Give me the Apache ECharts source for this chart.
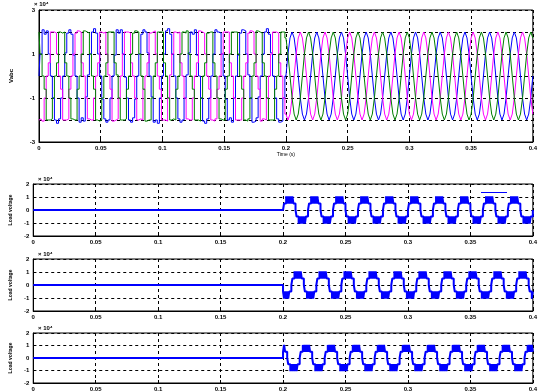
<!DOCTYPE html>
<html>
<head>
<meta charset="utf-8">
<script src="https://cdn.jsdelivr.net/npm/echarts@6/dist/echarts.min.js"></script>
<style>
  html, body { margin: 0; padding: 0; background: #fff; }
  #chart { width: 540px; height: 392px; }
</style>
</head>
<body>
<div id="chart"></div>
<script>
// time axis ticks (s)
const xTicks = [0, 0.05, 0.1, 0.15, 0.2, 0.25, 0.3, 0.35, 0.4];

// top plot: three phase voltages (x10^4), 12 samples per 20 ms cycle
// first half 0..0.2 s (stepped, distorted), 121 samples incl. t = 0.2
const vaStart = [
  0, 1, 2.1, 1.9, 2.05, 1, 0, -1, -2, -2.15, -1.95, -1,
  0, 1.05, 1.95, 2.1, 1.9, .95, 0, -1, -2.1, -1.9, -2.05, -.95,
  .05, 1, 2, 2.15, 1.95, 1, 0, -1.05, -1.95, -2.1, -2, -1,
  0, .95, 2.1, 1.95, 2.1, 1, -.05, -1, -2, -2.1, -1.9, -1.05,
  0, 1, 1.9, 2.1, 2, 1.05, 0, -.95, -2.1, -2, -2.15, -1,
  0, 1, 2.05, 2.15, 1.9, 1, 0, -1, -1.95, -2.1, -2, -1,
  .05, 1.05, 2, 1.9, 2.1, .95, 0, -1, -2.05, -2.15, -1.95, -1,
  0, 1, 2.1, 2, 1.95, 1, 0, -1.05, -2, -1.9, -2.1, -1,
  0, .95, 1.95, 2.1, 2.05, 1, .05, -1, -2.1, -2.05, -1.9, -.95,
  0, 1, 2, 2.15, 1.9, 1.05, 0, -1, -1.95, -2.1, -2.05, -1,
  0
];
const vbStart = [
  -2, -1.95, -2.05, -1, 0, .6, 2, 2, 1.95, 1, 0, -.6,
  -2, -2, -1.95, -.6, 0, 1, 1.95, 2.05, 2, .6, 0, -1,
  -1.95, -2, -2, -1, 0, .6, 2, 1.95, 2, 1, .05, -.6,
  -2.05, -2, -1.95, -1, 0, 1, 2, 2, 1.95, .6, 0, -1,
  -2, -1.95, -2, -.6, 0, .6, 1.95, 2, 2.05, 1, 0, -.6,
  -2, -2, -2.05, -1, .05, 1, 2, 1.95, 2, .6, 0, -1,
  -1.95, -2, -2, -1, 0, .6, 2.05, 2, 1.95, 1, 0, -.6,
  -2, -2.05, -1.95, -.6, 0, 1, 2, 2, 2, .6, 0, -1,
  -2, -2, -2, -1, 0, .6, 1.95, 2.05, 2, 1, 0, -.6,
  -2.05, -1.95, -2, -1, 0, 1, 2, 2, 1.95, .6, 0, -1,
  -1.73
];
const vcStart = [
  2, 1, 0, -.6, -2, -2, -1.95, -1, 0, .6, 2, 1.95,
  2, .6, 0, -1, -1.95, -2, -2, -.6, 0, 1, 2.05, 2,
  1.95, 1, 0, -.6, -2, -2.05, -2, -1, 0, .6, 2, 2,
  2, .6, .05, -1, -2, -2, -1.95, -.6, 0, 1, 1.95, 2.05,
  2, 1, 0, -.6, -2.05, -2, -2, -1, 0, .6, 2, 2,
  2, .6, 0, -1, -2, -1.95, -2, -.6, 0, 1, 2, 1.95,
  2.05, 1, 0, -.6, -2, -2, -2.05, -1, 0, .6, 1.95, 2,
  2, .6, 0, -1, -1.95, -2, -2, -.6, 0, 1, 2, 2,
  2, 1, 0, -.6, -2, -2.05, -1.95, -1, 0, .6, 2.05, 2,
  1.95, .6, 0, -1, -2, -2, -2, -.6, 0, 1, 2, 2,
  1.73
];
// second half 0.2..0.4 s (smooth), 121 samples
const vaEnd = [
  0, 1, 1.73, 2, 1.73, 1, 0, -1, -1.73, -2, -1.73, -1,
  0, 1, 1.73, 2, 1.73, 1, 0, -1, -1.73, -2, -1.73, -1,
  0, 1, 1.73, 2, 1.73, 1, 0, -1, -1.73, -2, -1.73, -1,
  0, 1, 1.73, 2, 1.73, 1, 0, -1, -1.73, -2, -1.73, -1,
  0, 1, 1.73, 2, 1.73, 1, 0, -1, -1.73, -2, -1.73, -1,
  0, 1, 1.73, 2, 1.73, 1, 0, -1, -1.73, -2, -1.73, -1,
  0, 1, 1.73, 2, 1.73, 1, 0, -1, -1.73, -2, -1.73, -1,
  0, 1, 1.73, 2, 1.73, 1, 0, -1, -1.73, -2, -1.73, -1,
  0, 1, 1.73, 2, 1.73, 1, 0, -1, -1.73, -2, -1.73, -1,
  0, 1, 1.73, 2, 1.73, 1, 0, -1, -1.73, -2, -1.73, -1,
  0
];
const vbEnd = [
  -1.73, -2, -1.73, -1, 0, 1, 1.73, 2, 1.73, 1, 0, -1,
  -1.73, -2, -1.73, -1, 0, 1, 1.73, 2, 1.73, 1, 0, -1,
  -1.73, -2, -1.73, -1, 0, 1, 1.73, 2, 1.73, 1, 0, -1,
  -1.73, -2, -1.73, -1, 0, 1, 1.73, 2, 1.73, 1, 0, -1,
  -1.73, -2, -1.73, -1, 0, 1, 1.73, 2, 1.73, 1, 0, -1,
  -1.73, -2, -1.73, -1, 0, 1, 1.73, 2, 1.73, 1, 0, -1,
  -1.73, -2, -1.73, -1, 0, 1, 1.73, 2, 1.73, 1, 0, -1,
  -1.73, -2, -1.73, -1, 0, 1, 1.73, 2, 1.73, 1, 0, -1,
  -1.73, -2, -1.73, -1, 0, 1, 1.73, 2, 1.73, 1, 0, -1,
  -1.73, -2, -1.73, -1, 0, 1, 1.73, 2, 1.73, 1, 0, -1,
  -1.73
];
const vcEnd = [
  1.73, 1, 0, -1, -1.73, -2, -1.73, -1, 0, 1, 1.73, 2,
  1.73, 1, 0, -1, -1.73, -2, -1.73, -1, 0, 1, 1.73, 2,
  1.73, 1, 0, -1, -1.73, -2, -1.73, -1, 0, 1, 1.73, 2,
  1.73, 1, 0, -1, -1.73, -2, -1.73, -1, 0, 1, 1.73, 2,
  1.73, 1, 0, -1, -1.73, -2, -1.73, -1, 0, 1, 1.73, 2,
  1.73, 1, 0, -1, -1.73, -2, -1.73, -1, 0, 1, 1.73, 2,
  1.73, 1, 0, -1, -1.73, -2, -1.73, -1, 0, 1, 1.73, 2,
  1.73, 1, 0, -1, -1.73, -2, -1.73, -1, 0, 1, 1.73, 2,
  1.73, 1, 0, -1, -1.73, -2, -1.73, -1, 0, 1, 1.73, 2,
  1.73, 1, 0, -1, -1.73, -2, -1.73, -1, 0, 1, 1.73, 2,
  1.73
];

// load voltages (x10^4) from 0.2 s, 24 samples per cycle, 241 samples
const loadA = [
  0, .5, .5, 1.05, .5, 1.05, .5, 1.05, .5, 1.05, .5, .5, 0, -.5, -.5, -1.05, -.5, -1.05, -.5, -1.05, -.5, -1.05, -.5, -.5,
  0, .5, .5, 1.05, .5, 1.05, .5, 1.05, .5, 1.05, .5, .5, 0, -.5, -.5, -1.05, -.5, -1.05, -.5, -1.05, -.5, -1.05, -.5, -.5,
  0, .5, .5, 1.05, .5, 1.05, .5, 1.05, .5, 1.05, .5, .5, 0, -.5, -.5, -1.05, -.5, -1.05, -.5, -1.05, -.5, -1.05, -.5, -.5,
  0, .5, .5, 1.05, .5, 1.05, .5, 1.05, .5, 1.05, .5, .5, 0, -.5, -.5, -1.05, -.5, -1.05, -.5, -1.05, -.5, -1.05, -.5, -.5,
  0, .5, .5, 1.05, .5, 1.05, .5, 1.05, .5, 1.05, .5, .5, 0, -.5, -.5, -1.05, -.5, -1.05, -.5, -1.05, -.5, -1.05, -.5, -.5,
  0, .5, .5, 1.05, .5, 1.05, .5, 1.05, .5, 1.05, .5, .5, 0, -.5, -.5, -1.05, -.5, -1.05, -.5, -1.05, -.5, -1.05, -.5, -.5,
  0, .5, .5, 1.05, .5, 1.05, .5, 1.05, .5, 1.05, .5, .5, 0, -.5, -.5, -1.05, -.5, -1.05, -.5, -1.05, -.5, -1.05, -.5, -.5,
  0, .5, .5, 1.05, .5, 1.05, .5, 1.05, .5, 1.05, .5, .5, 0, -.5, -.5, -1.05, -.5, -1.05, -.5, -1.05, -.5, -1.05, -.5, -.5,
  0, .5, .5, 1.05, .5, 1.05, .5, 1.05, .5, 1.05, .5, .5, 0, -.5, -.5, -1.05, -.5, -1.05, -.5, -1.05, -.5, -1.05, -.5, -.5,
  0, .5, .5, 1.05, .5, 1.05, .5, 1.05, .5, 1.05, .5, .5, 0, -.5, -.5, -1.05, -.5, -1.05, -.5, -1.05, -.5, -1.05, -.5, -.5,
  0
];
const loadB = [
  -.5, -1.05, -.5, -1.05, -.5, -1.05, -.5, -.5, 0, .5, .5, 1.05, .5, 1.05, .5, 1.05, .5, 1.05, .5, .5, 0, -.5, -.5, -1.05,
  -.5, -1.05, -.5, -1.05, -.5, -1.05, -.5, -.5, 0, .5, .5, 1.05, .5, 1.05, .5, 1.05, .5, 1.05, .5, .5, 0, -.5, -.5, -1.05,
  -.5, -1.05, -.5, -1.05, -.5, -1.05, -.5, -.5, 0, .5, .5, 1.05, .5, 1.05, .5, 1.05, .5, 1.05, .5, .5, 0, -.5, -.5, -1.05,
  -.5, -1.05, -.5, -1.05, -.5, -1.05, -.5, -.5, 0, .5, .5, 1.05, .5, 1.05, .5, 1.05, .5, 1.05, .5, .5, 0, -.5, -.5, -1.05,
  -.5, -1.05, -.5, -1.05, -.5, -1.05, -.5, -.5, 0, .5, .5, 1.05, .5, 1.05, .5, 1.05, .5, 1.05, .5, .5, 0, -.5, -.5, -1.05,
  -.5, -1.05, -.5, -1.05, -.5, -1.05, -.5, -.5, 0, .5, .5, 1.05, .5, 1.05, .5, 1.05, .5, 1.05, .5, .5, 0, -.5, -.5, -1.05,
  -.5, -1.05, -.5, -1.05, -.5, -1.05, -.5, -.5, 0, .5, .5, 1.05, .5, 1.05, .5, 1.05, .5, 1.05, .5, .5, 0, -.5, -.5, -1.05,
  -.5, -1.05, -.5, -1.05, -.5, -1.05, -.5, -.5, 0, .5, .5, 1.05, .5, 1.05, .5, 1.05, .5, 1.05, .5, .5, 0, -.5, -.5, -1.05,
  -.5, -1.05, -.5, -1.05, -.5, -1.05, -.5, -.5, 0, .5, .5, 1.05, .5, 1.05, .5, 1.05, .5, 1.05, .5, .5, 0, -.5, -.5, -1.05,
  -.5, -1.05, -.5, -1.05, -.5, -1.05, -.5, -.5, 0, .5, .5, 1.05, .5, 1.05, .5, 1.05, .5, 1.05, .5, .5, 0, -.5, -.5, -1.05,
  -.5
];
const loadC = [
  .5, 1.05, .5, .5, 0, -.5, -.5, -1.05, -.5, -1.05, -.5, -1.05, -.5, -1.05, -.5, -.5, 0, .5, .5, 1.05, .5, 1.05, .5, 1.05,
  .5, 1.05, .5, .5, 0, -.5, -.5, -1.05, -.5, -1.05, -.5, -1.05, -.5, -1.05, -.5, -.5, 0, .5, .5, 1.05, .5, 1.05, .5, 1.05,
  .5, 1.05, .5, .5, 0, -.5, -.5, -1.05, -.5, -1.05, -.5, -1.05, -.5, -1.05, -.5, -.5, 0, .5, .5, 1.05, .5, 1.05, .5, 1.05,
  .5, 1.05, .5, .5, 0, -.5, -.5, -1.05, -.5, -1.05, -.5, -1.05, -.5, -1.05, -.5, -.5, 0, .5, .5, 1.05, .5, 1.05, .5, 1.05,
  .5, 1.05, .5, .5, 0, -.5, -.5, -1.05, -.5, -1.05, -.5, -1.05, -.5, -1.05, -.5, -.5, 0, .5, .5, 1.05, .5, 1.05, .5, 1.05,
  .5, 1.05, .5, .5, 0, -.5, -.5, -1.05, -.5, -1.05, -.5, -1.05, -.5, -1.05, -.5, -.5, 0, .5, .5, 1.05, .5, 1.05, .5, 1.05,
  .5, 1.05, .5, .5, 0, -.5, -.5, -1.05, -.5, -1.05, -.5, -1.05, -.5, -1.05, -.5, -.5, 0, .5, .5, 1.05, .5, 1.05, .5, 1.05,
  .5, 1.05, .5, .5, 0, -.5, -.5, -1.05, -.5, -1.05, -.5, -1.05, -.5, -1.05, -.5, -.5, 0, .5, .5, 1.05, .5, 1.05, .5, 1.05,
  .5, 1.05, .5, .5, 0, -.5, -.5, -1.05, -.5, -1.05, -.5, -1.05, -.5, -1.05, -.5, -.5, 0, .5, .5, 1.05, .5, 1.05, .5, 1.05,
  .5, 1.05, .5, .5, 0, -.5, -.5, -1.05, -.5, -1.05, -.5, -1.05, -.5, -1.05, -.5, -.5, 0, .5, .5, 1.05, .5, 1.05, .5, 1.05,
  .5
];

const period = 0.02;
const dtTop = period / 12;
const dtLoad = period / 24;
const tSwitch = 0.2;

const pairs = (vals, t0, dt) => vals.map((v, i) => [t0 + i * dt, v]);
const loadPairs = (vals) => [[0, 0]].concat(pairs(vals, tSwitch, dtLoad));

const BLUE = '#0000ff';
const MAGENTA = '#ff00ff';
const GREEN = '#008000';

const chart = echarts.init(document.getElementById('chart'), null, { renderer: 'canvas' });

const grids = [
  { left: 33, right: 7, top: 10, height: 132 },
  { left: 33, right: 7, top: 184, height: 52 },
  { left: 33, right: 7, top: 259, height: 52 },
  { left: 33, right: 7, top: 333, height: 53 },
];

const dashed = { show: true, lineStyle: { color: '#000', type: [3, 3], width: 1 } };
const labelStyle = { fontSize: 6, fontWeight: 'bold', color: '#000', fontFamily: 'Liberation Sans' };

const xAxes = grids.map((g, i) => ({
  type: 'value',
  gridIndex: i,
  min: 0,
  max: 0.4,
  interval: 0.05,
  axisLine: { show: true, onZero: false, lineStyle: { color: '#000', width: 1 } },
  axisTick: { show: true, inside: true, length: 3, lineStyle: { color: '#000' } },
  axisLabel: Object.assign({ margin: 3, formatter: (v) => String(+v.toFixed(2)) }, labelStyle),
  splitLine: dashed,
  name: i === 0 ? 'Time (s)' : '',
  nameLocation: 'middle',
  nameGap: 9,
  nameTextStyle: { fontSize: 5, color: '#000', fontFamily: 'Liberation Sans' },
}));

const yAxes = [
  {
    type: 'value', gridIndex: 0, min: -3, max: 3, interval: 1,
    axisLine: { show: true, lineStyle: { color: '#000', width: 1 } },
    axisTick: { show: true, inside: true, length: 3, lineStyle: { color: '#000' } },
    axisLabel: Object.assign({ margin: 4, formatter: (v) => (Math.abs(v) % 2 === 1 ? String(v) : '') }, labelStyle),
    splitLine: dashed,
    name: 'Vabc', nameLocation: 'middle', nameGap: 25, nameRotate: 90,
    nameTextStyle: { fontSize: 6, fontWeight: 'bold', color: '#000', fontFamily: 'Liberation Sans' },
  },
].concat([1, 2, 3].map((i) => ({
  type: 'value', gridIndex: i, min: -2, max: 2, interval: 1,
  axisLine: { show: true, lineStyle: { color: '#000', width: 1 } },
  axisTick: { show: true, inside: true, length: 3, lineStyle: { color: '#000' } },
  axisLabel: Object.assign({ margin: 4 }, labelStyle),
  splitLine: dashed,
  name: 'Load voltage', nameLocation: 'middle', nameGap: 20, nameRotate: 90,
  nameTextStyle: { fontSize: 5, fontWeight: 'bold', color: '#000', fontFamily: 'Liberation Sans' },
})));

const line = (name, data, color, xi, width, step) => ({
  name,
  type: 'line',
  xAxisIndex: xi,
  yAxisIndex: xi,
  data,
  step,
  showSymbol: false,
  symbol: 'none',
  lineStyle: { color, width },
  itemStyle: { color },
  silent: true,
});

chart.setOption({
  animation: false,
  backgroundColor: '#fff',
  grid: grids.map((g) => Object.assign({ show: true, borderColor: '#000', borderWidth: 1, backgroundColor: 'transparent' }, g)),
  xAxis: xAxes,
  yAxis: yAxes,
  legend: {
    data: ['Phase a load'],
    left: 476,
    top: 187,
    icon: 'rect',
    itemWidth: 26,
    itemHeight: 1,
    formatter: () => '',
    textStyle: { fontSize: 5 },
  },
  graphic: [1, 2, 3].map((i) => ({
    type: 'text',
    left: 38,
    top: grids[i].top - 8,
    style: { text: '× 10⁴', fontSize: 6, fontWeight: 'bold', fill: '#000', fontFamily: 'Liberation Sans' },
  })).concat([{
    type: 'text',
    left: 34,
    top: 1,
    style: { text: '× 10⁴', fontSize: 6, fontWeight: 'bold', fill: '#000', fontFamily: 'Liberation Sans' },
  }]),
  series: [
    line('Va', pairs(vaStart, 0, dtTop), BLUE, 0, 1, 'middle'),
    line('Vb', pairs(vbStart, 0, dtTop), MAGENTA, 0, 1, 'middle'),
    line('Vc', pairs(vcStart, 0, dtTop), GREEN, 0, 1, 'middle'),
    line('Va2', pairs(vaEnd, tSwitch, dtTop), BLUE, 0, 1, false),
    line('Vb2', pairs(vbEnd, tSwitch, dtTop), MAGENTA, 0, 1, false),
    line('Vc2', pairs(vcEnd, tSwitch, dtTop), GREEN, 0, 1, false),
    line('Phase a load', loadPairs(loadA), BLUE, 1, 2, 'end'),
    line('Phase b load', loadPairs(loadB), BLUE, 2, 2, 'end'),
    line('Phase c load', loadPairs(loadC), BLUE, 3, 2, 'end'),
  ],
});
</script>
</body>
</html>
